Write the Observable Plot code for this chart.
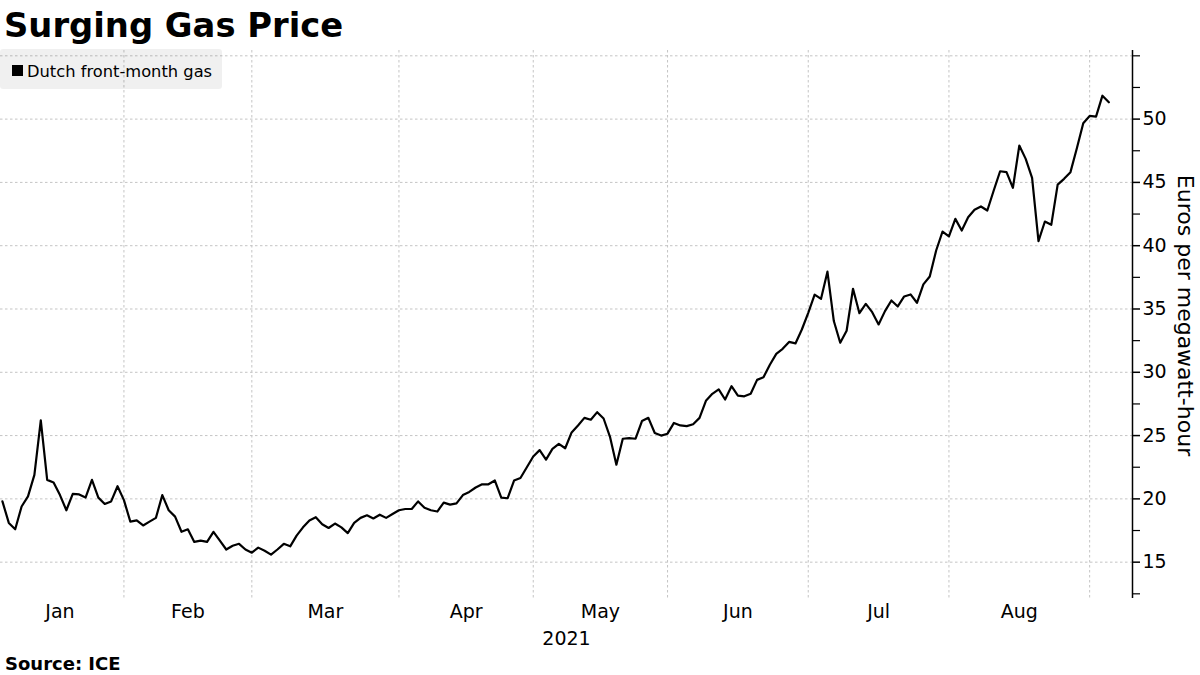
<!DOCTYPE html>
<html>
<head>
<meta charset="utf-8">
<script src="https://cdn.jsdelivr.net/npm/d3@7"></script>
<script src="https://cdn.jsdelivr.net/npm/@observablehq/plot@0.6"></script>
<style>
  body { margin: 0; background: #fff; }
  #wrap { position: relative; width: 1200px; height: 675px; overflow: hidden; font-family: "DejaVu Sans", sans-serif; color: #000; }
  #title { position: absolute; left: 4px; top: 8.5px; font-size: 33.8px; line-height: 33.8px; font-weight: bold; white-space: nowrap; }
  #chart { position: absolute; left: 0; top: 45px; }
  #legend { position: absolute; left: 0; top: 49px; width: 222px; height: 40px; background: rgba(0,0,0,0.06); border-radius: 3px; }
  #legend .sw { position: absolute; left: 12px; top: 16px; width: 11px; height: 11px; background: #000; }
  #legend .lb { position: absolute; left: 27px; top: 14.5px; font-size: 16.3px; line-height: 16px; white-space: nowrap; }
  #source { position: absolute; left: 5px; top: 655px; font-size: 18px; line-height: 18px; font-weight: bold; white-space: nowrap; }
</style>
</head>
<body>
<div id="wrap">
  <div id="title">Surging Gas Price</div>
  <div id="chart"></div>
  <div id="legend"><div class="sw"></div><div class="lb">Dutch front-month gas</div></div>
  <div id="source">Source: ICE</div>
</div>
<script>
// ---- Data (Dutch front-month gas, EUR/MWh, trading days 2021) ----
const months = ["Jan", "Feb", "Mar", "Apr", "May", "Jun", "Jul", "Aug"];
const tradingDaysPerMonth = [20, 20, 23, 21, 21, 22, 22, 22];
const firstDayOffset = 1; // series begins on the 2nd trading day of January
const seriesName = "Dutch front-month gas";
const yearLabel = "2021";
const yAxisTitle = "Euros per megawatt-hour";

const janValues = [19.8, 18.1, 17.6, 19.4, 20.2, 21.9, 26.2, 21.5, 21.3, 20.3, 19.1, 20.4, 20.35, 20.1, 21.5, 20.1, 19.6, 19.8, 21.0];
const febValues = [19.9, 18.2, 18.3, 17.9, 18.2, 18.5, 20.3, 19.1, 18.6, 17.4, 17.6, 16.6, 16.7, 16.6, 17.4, 16.7, 16.0, 16.3, 16.45, 16.0];
const marValues = [15.75, 16.15, 15.9, 15.6, 16.0, 16.45, 16.25, 17.1, 17.75, 18.3, 18.55, 18.0, 17.7, 18.05, 17.75, 17.3, 18.1, 18.5, 18.7, 18.45, 18.75, 18.5, 18.8];
const aprValues = [19.1, 19.2, 19.2, 19.8, 19.3, 19.1, 19.0, 19.7, 19.55, 19.65, 20.3, 20.55, 20.9, 21.15, 21.15, 21.45, 20.1, 20.05, 21.45, 21.65, 22.5];
const mayValues = [23.35, 23.85, 23.1, 23.95, 24.35, 24.0, 25.25, 25.8, 26.4, 26.25, 26.85, 26.35, 24.9, 22.7, 24.75, 24.8, 24.75, 26.15, 26.4, 25.2, 25.0];
const junValues = [25.15, 26.0, 25.8, 25.75, 25.9, 26.4, 27.75, 28.3, 28.65, 27.85, 28.9, 28.15, 28.1, 28.3, 29.4, 29.6, 30.6, 31.45, 31.85, 32.4, 32.28, 33.38];
const julValues = [34.7, 36.13, 35.8, 37.95, 34.05, 32.33, 33.28, 36.6, 34.67, 35.41, 34.75, 33.78, 34.83, 35.67, 35.2, 35.99, 36.15, 35.49, 36.94, 37.57, 39.62, 41.12];
const augValues = [40.73, 42.12, 41.2, 42.25, 42.84, 43.1, 42.78, 44.36, 45.88, 45.81, 44.57, 47.91, 46.86, 45.36, 40.36, 41.91, 41.65, 44.83, 45.28, 45.81, 47.7, 49.68];
const sepValues = [50.25, 50.2, 51.85, 51.33];

const yLabelTicks = [15, 20, 25, 30, 35, 40, 45, 50];
const yMinorTicks = [12.5, 17.5, 22.5, 27.5, 32.5, 37.5, 42.5, 47.5, 52.5, 55];
const yGridValues = [15, 20, 25, 30, 35, 40, 45, 50, 55];
const yDomain = [12.13, 55.42];

// ---- Build table ----
const allValues = [janValues, febValues, marValues, aprValues, mayValues, junValues, julValues, augValues, sepValues].flat();
const data = allValues.map((v, i) => ({ idx: firstDayOffset + i, value: v }));

const monthStarts = [0];
tradingDaysPerMonth.forEach(n => monthStarts.push(monthStarts[monthStarts.length - 1] + n));
const labelPositions = months.map((m, k) => (monthStarts[k] + monthStarts[k + 1]) / 2);

const firstIdx = data[0].idx, lastIdx = data[data.length - 1].idx;
const xDomain = [firstIdx - 0.3, lastIdx + 3.7];
const gridX = monthStarts.filter(d => d > xDomain[0] && d < xDomain[1]);

const gridStyle = { stroke: "#c4c4c4", strokeWidth: 1, strokeDasharray: "2.5,2.5" };

const chart = Plot.plot({
  width: 1200,
  height: 605,
  marginTop: 5,
  marginBottom: 52,
  marginLeft: 0,
  marginRight: 68,
  x: { domain: xDomain, axis: null },
  y: { domain: yDomain, axis: null },
  style: { fontFamily: "DejaVu Sans, sans-serif", fontSize: "19px", color: "#000", background: "transparent", overflow: "visible" },
  marks: [
    Plot.ruleY(yGridValues, gridStyle),
    Plot.ruleX(gridX, gridStyle),
    Plot.line(data, { x: "idx", y: "value", stroke: "#000", strokeWidth: 2.2 }),
    Plot.ruleX([xDomain[1]], { stroke: "#000", strokeWidth: 1.5 }),
    Plot.axisY({ anchor: "right", ticks: yLabelTicks, tickSize: 7, tickPadding: 3, fontSize: 19, label: null, strokeWidth: 1.5 }),
    Plot.axisY({ anchor: "right", ticks: yMinorTicks, tickSize: 7, tickFormat: () => "", label: null, strokeWidth: 1.2 }),
    Plot.axisX({ anchor: "bottom", ticks: labelPositions, tickFormat: d => months[labelPositions.indexOf(d)], tickSize: 0, tickPadding: 6, fontSize: 19, label: null }),
    Plot.text([yAxisTitle], { frameAnchor: "right", textAnchor: "middle", lineAnchor: "middle", rotate: 90, dx: 53, dy: -9, fontSize: 22 }),
    Plot.text([yearLabel], { frameAnchor: "bottom", lineAnchor: "middle", dy: 40, fontSize: 19 })
  ]
});
document.getElementById("chart").appendChild(chart);
</script>
</body>
</html>
